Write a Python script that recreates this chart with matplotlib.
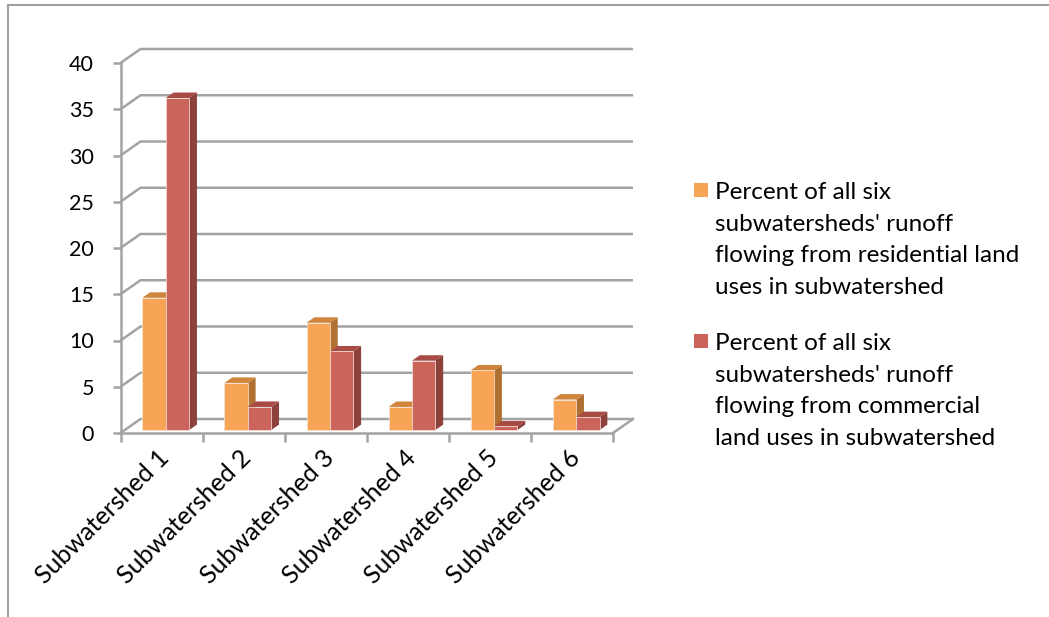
import numpy as np
import matplotlib.pyplot as plt
import matplotlib.transforms as mtransforms
from matplotlib.patches import Polygon, Rectangle
from matplotlib.lines import Line2D

plt.rcParams['font.family'] = ['Lato', 'DejaVu Sans']

categories = ["Subwatershed 1", "Subwatershed 2", "Subwatershed 3",
              "Subwatershed 4", "Subwatershed 5", "Subwatershed 6"]
residential = [14.3, 5.1, 11.6, 2.5, 6.45, 3.3]
commercial = [35.9, 2.5, 8.5, 7.5, 0.4, 1.4]
series_labels = [
    "Percent of all six\nsubwatersheds' runoff\nflowing from residential land\nuses in subwatershed",
    "Percent of all six\nsubwatersheds' runoff\nflowing from commercial\nland uses in subwatershed",
]

W, H = 1049, 617
fig = plt.figure(figsize=(W / 100, H / 100), dpi=100)
ax = fig.add_axes([120.5 / W, 1 - 433 / H, (613 - 120.5) / W, (433 - 63) / H])
ax.set_xlim(0, 6)
ax.set_ylim(0, 40)

grid = "#a3a3a3"
# depth of the back wall in data units
DX, DY = 20 / 82.08, 14 / 9.25

for s in ["top", "right"]:
    ax.spines[s].set_visible(False)
for s in ["left", "bottom"]:
    ax.spines[s].set_color(grid)
    ax.spines[s].set_linewidth(1.8)

ax.set_yticks(np.arange(0, 41, 5))
ax.set_xticks(np.arange(0, 7))
ax.set_xticklabels([])
ax.set_xticks(np.arange(6) + 0.5, minor=True)
ax.set_xticklabels(categories, minor=True, rotation=45, ha="right", va="top",
                   rotation_mode="anchor", fontsize=18)
ax.tick_params(axis="y", length=6, width=1.8, color=grid, labelsize=15.5, pad=13)
ax.tick_params(axis="x", which="major", length=6.5, width=1.8, color=grid)
ax.tick_params(axis="x", which="minor", length=0, pad=9)
shift = mtransforms.ScaledTranslation(-4 / 100, 0, fig.dpi_scale_trans)
for lab in ax.get_xticklabels(minor=True):
    lab.set_transform(lab.get_transform() + shift)

# side wall edges and back wall gridlines
for v in np.arange(0, 41, 5):
    ax.plot([0, DX, 6 + DX], [v, v + DY, v + DY], color=grid, lw=1.8,
            clip_on=False, zorder=1, solid_capstyle="butt")
ax.plot([6, 6 + DX], [0, DY], color=grid, lw=1.8, clip_on=False, zorder=1)

# 3-D style columns
bw = 0.285
f0, f1 = 0.21, 0.6
colors = [("#f7a457", "#d0853c", "#b07031"), ("#cb645b", "#a84b44", "#8c423b")]
for i in range(6):
    for k, vals in enumerate([residential, commercial]):
        v = vals[i]
        x0 = i + 0.5 - bw + k * bw + f0 * DX
        y0 = f0 * DY
        ddx, ddy = (f1 - f0) * DX, (f1 - f0) * DY
        front, top, side = colors[k]
        z = 3 + i * 0.1 + k * 0.01
        ax.add_patch(Polygon([(x0 + bw, y0), (x0 + bw + ddx, y0 + ddy),
                              (x0 + bw + ddx, y0 + v + ddy), (x0 + bw, y0 + v)],
                             closed=True, fc=side, ec="none", clip_on=False, zorder=z))
        ax.add_patch(Polygon([(x0, y0 + v), (x0 + ddx, y0 + v + ddy),
                              (x0 + bw + ddx, y0 + v + ddy), (x0 + bw, y0 + v)],
                             closed=True, fc=top, ec="none", clip_on=False, zorder=z))
        ax.bar(x0, v, width=bw, bottom=y0, align="edge", color=front,
               edgecolor="#f3e6dc", linewidth=0.5, clip_on=False, zorder=z + 0.001)

# legend: square marker aligned with the first line of each entry
for k, label in enumerate(series_labels):
    ytop = 183 + k * 151
    fig.add_artist(Rectangle((694 / W, 1 - (ytop + 14) / H), 14 / W, 14 / H,
                             fc=colors[k][0], ec="none"))
    fig.text(715 / W, 1 - (ytop - 1) / H, label, fontsize=17.5, va="top",
             ha="left", linespacing=1.62)

# outer chart border
fig.add_artist(Line2D([8 / W, 8 / W], [0, 1 - 5 / H], color="#a0a0a0", lw=1.5))
fig.add_artist(Line2D([8 / W, 1], [1 - 5 / H, 1 - 5 / H], color="#a0a0a0", lw=1.5))

fig.savefig("out.png", dpi=100)
